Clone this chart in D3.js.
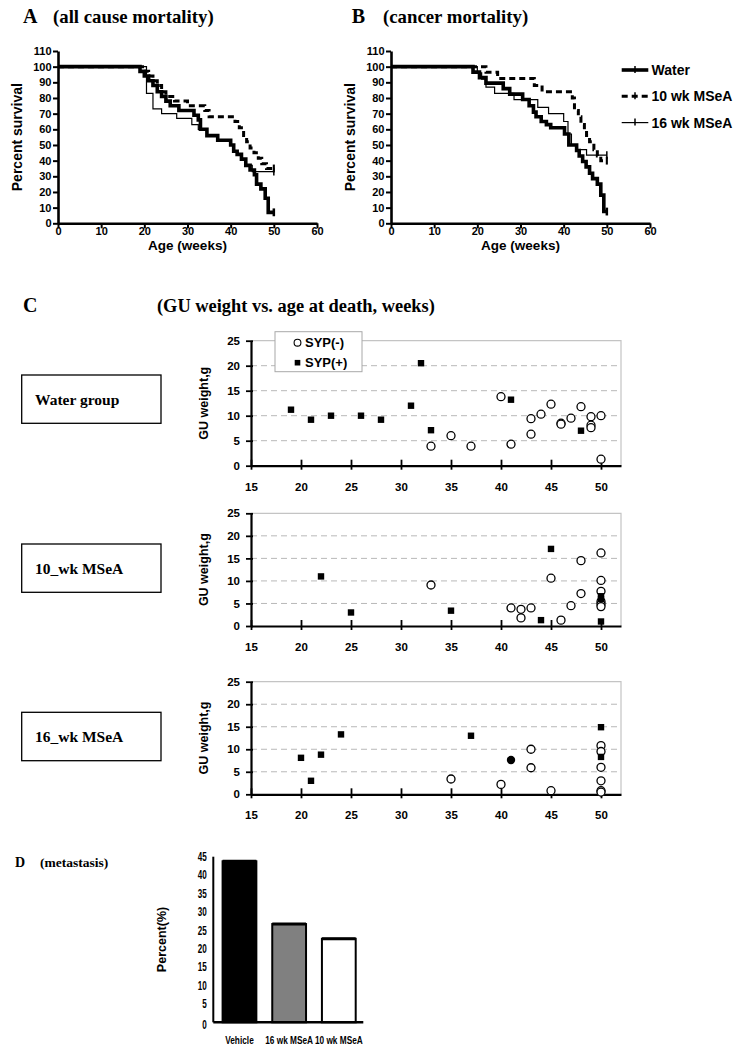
<!DOCTYPE html>
<html><head><meta charset="utf-8">
<script src="https://cdn.jsdelivr.net/npm/d3@7"></script>
<style>
body{margin:0;background:#fff}
svg text{font-family:"Liberation Sans",Arial,sans-serif;font-weight:bold;fill:#000}
svg text.serif{font-family:"Liberation Serif","Times New Roman",serif}
</style></head><body>
<svg id="fig" width="744" height="1050"></svg>
<script>
// ---------------- DATA ----------------
const studyEnd = 50;
const survTicksX = [0,10,20,30,40,50,60];
const survTicksY = [0,10,20,30,40,50,60,70,80,90,100,110];
// Panel A (all cause mortality): [week, percent survival] step points
const survA_water = [[0,100],[19,97],[20,94],[21,91],[22,88],[23,84],[24,81],[25,78],[26,75],[28,72],[31.5,69],[32.5,66],[33,60],[34.5,56],[37,53],[40,50],[40.7,46],[41.5,44],[42.5,41],[43.5,37],[44.5,34],[45.5,31],[46,25],[47,22],[48,16],[48.7,7]];
const survA_10wk  = [[0,100],[20,97],[21,94],[22,91],[23,88],[24,84],[25,81],[27,78],[30,75],[34,72],[35,68],[41,65],[42,61],[43,56],[43.7,52],[44.5,48],[45.4,45],[46.4,41.5],[47.2,38],[48.3,35]];
const survA_16wk  = [[0,100],[20.5,83],[22,73],[24,70],[27.5,67],[31,63],[32.5,60],[34.5,56],[37,53],[40,50],[40.7,46],[41.5,44],[42.5,41],[43.5,37],[45,33]];
// Panel B (cancer mortality)
const survB_water = [[0,100],[19,96.5],[20.5,93],[22,89.5],[26,86],[27.5,82.5],[30.5,79],[32,75],[33,71],[33.6,68],[34.8,65],[36,63],[37,61],[40.2,57],[41.2,50],[43,46.5],[43.6,43],[44.4,39.5],[45.2,36],[46,32],[46.7,28.5],[47.8,25],[48.6,18],[49.3,7.5]];
const survB_10wk  = [[0,100],[22,96.5],[24.7,92.5],[33.2,88],[35,84],[42,80],[42.5,72],[43.4,68],[44,63],[44.8,59],[45.3,56],[46,52],[47,47],[47.8,43],[48.6,40]];
const survB_16wk  = [[0,100],[20,96],[21,92],[22,87],[24,83],[28.5,79],[34,74],[36.5,70],[40,65],[41,57],[41.8,50],[43,47],[45.3,43.5]];
const survSeries = ["Water","10 wk MSeA","16 wk MSeA"];

// Panel C: [age at death (weeks), GU weight (g)]
const gTicksX = [15,20,25,30,35,40,45,50];
const gTicksY = [0,5,10,15,20,25];
const groupNames = ["Water group","10_wk MSeA","16_wk MSeA"];
const water_neg = [[33,3.9],[35,6],[37,3.9],[40,13.8],[41,4.3],[43,9.4],[43,6.3],[44,10.3],[45,12.3],[46,8.5],[46,8.3],[47,9.5],[48,11.8],[49,9.8],[49,8.1],[49,7.6],[50,10],[50,1.3]];
const water_pos = [[19,11.2],[21,9.2],[23,10],[26,10],[28,9.2],[31,12],[32,20.5],[33,7.1],[41,13.2],[48,7]];
const wk10_neg = [[33,9.1],[41,4],[42,3.7],[42,1.8],[43,4],[45,10.6],[46,1.3],[47,4.5],[48,14.5],[48,7.2],[50,16.2],[50,10.1],[50,7.7],[50,5.4],[50,4.8],[50,4.3]];
const wk10_pos = [[22,11],[25,3],[35,3.4],[44,1.3],[45,17.1],[50,6.6],[50,6.0],[50,1]];
const wk16_neg = [[35,3.4],[40,2.2],[43,10],[43,5.9],[45,0.8],[50,10.8],[50,9.5],[50,6],[50,3],[50,0.8],[50,0.5]];
const wk16_pos = [[20,8.1],[21,3],[22,8.8],[24,13.3],[37,13],[50,14.9],[50,8.3]];
const wk16_dot = [[41,7.6]];

// Panel D: metastasis
const metCats = ["Vehicle","16 wk MSeA","10 wk MSeA"];
const metVals = [43.75, 26.7, 22.7];
const metTicks = [0,5,10,15,20,25,30,35,40,45];

// ---------------- DRAW ----------------
const svg = d3.select("#fig");

function txt(g, x, y, s, size, cls, anchor){
  return g.append("text").attr("x",x).attr("y",y).text(s)
    .attr("font-size",size).attr("class",cls||null).attr("text-anchor",anchor||"start");
}

// ---- Survival panels ----
const survStyle = {
  "Water":{w:3.6,dash:null},
  "10 wk MSeA":{w:3,dash:"6,4"},
  "16 wk MSeA":{w:1.2,dash:null}
};
function survivalPanel(x0, series){
  const g = svg.append("g");
  const x = d3.scaleLinear([0,60],[x0, x0+259]);
  const y = d3.scaleLinear([0,110],[223.3, 51]);
  const ax = g.append("g").attr("transform","translate(0,223.3)")
    .call(d3.axisBottom(x).tickValues(survTicksX).tickSize(5).tickSizeOuter(0).tickPadding(-1.5));
  const ay = g.append("g").attr("transform",`translate(${x0},0)`)
    .call(d3.axisLeft(y).tickValues(survTicksY).tickSize(5).tickSizeOuter(0).tickPadding(1.5));
  [ax,ay].forEach(a=>{
    a.select(".domain").attr("stroke-width",2.6);
    a.selectAll(".tick line").attr("stroke-width",2);
    a.selectAll(".tick text").attr("font-size",11).attr("font-family",null);
  });
  const line = d3.line().x(d=>x(d[0])).y(d=>y(d[1])).curve(d3.curveStepAfter);
  // draw thin first, then dashed, then thick
  const order = [2,1,0];
  order.forEach(i=>{
    const name = survSeries[i];
    const st = survStyle[name];
    const pts = series[i].concat([[studyEnd, series[i][series[i].length-1][1]]]);
    g.append("path").attr("d",line(pts)).attr("fill","none").attr("stroke","#000")
      .attr("stroke-width",st.w).attr("stroke-dasharray",st.dash);
    const last = pts[pts.length-1][1];
    g.append("line").attr("x1",x(studyEnd)).attr("x2",x(studyEnd))
      .attr("y1",y(last-2.5)).attr("y2",y(last+2.5)).attr("stroke","#000")
      .attr("stroke-width",Math.max(1.5,st.w*0.7));
  });
  txt(g, x(30), 250, "Age (weeks)", 13.5, null, "middle");
  g.append("text").attr("transform",`translate(${x0-36},${y(55)}) rotate(-90)`)
    .attr("text-anchor","middle").attr("font-size",14).text("Percent survival");
  return g;
}
survivalPanel(58, [survA_water, survA_10wk, survA_16wk]);
survivalPanel(391, [survB_water, survB_10wk, survB_16wk]);

txt(svg, 23, 23.3, "A", 20, "serif");
txt(svg, 53, 23.3, "(all cause mortality)", 18.8, "serif");
txt(svg, 351.7, 23.3, "B", 20, "serif");
txt(svg, 383, 23.3, "(cancer mortality)", 18.8, "serif");

// legend for survival
survSeries.forEach((name,i)=>{
  const st = survStyle[name];
  const ly = 70 + i*26.3;
  svg.append("line").attr("x1",621.7).attr("x2",648.3).attr("y1",ly).attr("y2",ly)
    .attr("stroke","#000").attr("stroke-width",st.w).attr("stroke-dasharray",st.dash);
  svg.append("line").attr("x1",635).attr("x2",635).attr("y1",ly-4).attr("y2",ly+3)
    .attr("stroke","#000").attr("stroke-width",1.5);
  txt(svg, 651.5, ly+5, name, 14);
});

// ---- Panel C ----
txt(svg, 23, 312, "C", 20, "serif");
txt(svg, 157, 312, "(GU weight vs. age at death, weeks)", 18.4, "serif");

const scatterPanels = [
  {name:groupNames[0], y0:465.7, y1:340.7, neg:water_neg, pos:water_pos, dot:[], box:[375,423.3], legend:true},
  {name:groupNames[1], y0:626,   y1:513.3, neg:wk10_neg,  pos:wk10_pos,  dot:[], box:[544,592.3]},
  {name:groupNames[2], y0:794.3, y1:681.7, neg:wk16_neg,  pos:wk16_pos,  dot:wk16_dot, box:[712.3,760.7]}
];
const gx = d3.scaleLinear([15,52],[251,621]);
scatterPanels.forEach(p=>{
  const g = svg.append("g");
  const y = d3.scaleLinear([0,25],[p.y0,p.y1]);
  // border top/right
  g.append("path").attr("d",`M${gx(15)},${y(25)}H${gx(52)}V${y(0)}`)
    .attr("fill","none").attr("stroke","#c4c4c4").attr("stroke-width",1.2);
  // grid
  g.selectAll(".grid").data(gTicksY.filter(v=>v>0&&v<25)).join("line")
    .attr("x1",gx(15)).attr("x2",gx(52)).attr("y1",d=>y(d)).attr("y2",d=>y(d))
    .attr("stroke","#b8b8b8").attr("stroke-width",1).attr("stroke-dasharray","6,4");
  // axes
  const ax = g.append("g").attr("transform",`translate(0,${p.y0})`)
    .call(d3.axisBottom(gx).tickValues(gTicksX).tickSize(0).tickPadding(17));
  ax.select(".domain").attr("stroke-width",2.2);
  ax.selectAll(".tick text").attr("font-size",11.5).attr("font-family",null);
  ax.selectAll(".tick").append("line").attr("y1",-6).attr("y2",4).attr("stroke","#000").attr("stroke-width",1.8);
  const ay = g.append("g").attr("transform",`translate(${gx(15)},0)`)
    .call(d3.axisLeft(y).tickValues(gTicksY).tickSize(0).tickPadding(11));
  ay.select(".domain").attr("stroke-width",2.2);
  ay.selectAll(".tick text").attr("font-size",11.5).attr("font-family",null);
  ay.selectAll(".tick").append("line").attr("x1",-5).attr("x2",2).attr("stroke","#000").attr("stroke-width",1.8);
  g.append("text").attr("transform",`translate(${208},${y(12.5)}) rotate(-90)`)
    .attr("text-anchor","middle").attr("font-size",12.5).text("GU weight,g");
  // points
  g.selectAll(".neg").data(p.neg).join("circle")
    .attr("cx",d=>gx(d[0])).attr("cy",d=>y(d[1])).attr("r",4)
    .attr("fill","#fff").attr("stroke","#000").attr("stroke-width",1.3);
  g.selectAll(".dot").data(p.dot).join("circle")
    .attr("cx",d=>gx(d[0])).attr("cy",d=>y(d[1])).attr("r",4.2).attr("fill","#000");
  g.selectAll(".pos").data(p.pos).join("rect")
    .attr("x",d=>gx(d[0])-3.2).attr("y",d=>y(d[1])-3.2).attr("width",6.4).attr("height",6.4).attr("fill","#000");
  // group box
  svg.append("rect").attr("x",21.7).attr("y",p.box[0]).attr("width",139.3).attr("height",p.box[1]-p.box[0])
    .attr("fill","#fff").attr("stroke","#000").attr("stroke-width",1.3);
  txt(svg, 35, (p.box[0]+p.box[1])/2+5.5, p.name, 15.5, "serif");
  if(p.legend){
    g.append("rect").attr("x",275).attr("y",331.7).attr("width",87).attr("height",40)
      .attr("fill","#fff").attr("stroke","#a8a8a8").attr("stroke-width",1);
    g.append("circle").attr("cx",297.5).attr("cy",342.7).attr("r",3.4)
      .attr("fill","#fff").attr("stroke","#000").attr("stroke-width",1.1);
    g.append("rect").attr("x",294.7).attr("y",359.9).attr("width",5.6).attr("height",5.6).attr("fill","#000");
    txt(g, 305, 347.3, "SYP(-)", 13);
    txt(g, 305, 367.3, "SYP(+)", 13);
  }
});

// ---- Panel D ----
txt(svg, 15, 866.7, "D", 14, "serif");
txt(svg, 40, 866.7, "(metastasis)", 13.5, "serif");
const dy = d3.scaleLinear([0,45],[1022.3,856.7]);
const dx = d3.scaleBand().domain(metCats).range([213.3,363.3]).paddingInner(0.32).paddingOuter(0.17).align(0.55);
const fillScale = d3.scaleOrdinal().domain(metCats).range(["#000","#808080","#fff"]);
const gd = svg.append("g");
gd.selectAll(".bar").data(metCats).join("rect")
  .attr("x",d=>dx(d)).attr("y",(d,i)=>dy(metVals[i])).attr("width",dx.bandwidth())
  .attr("height",(d,i)=>dy(0)-dy(metVals[i])).attr("fill",d=>fillScale(d))
  .attr("stroke","#000").attr("stroke-width",2);
gd.selectAll(".bartop").data(metCats).join("line")
  .attr("x1",d=>dx(d)).attr("x2",d=>dx(d)+dx.bandwidth())
  .attr("y1",(d,i)=>dy(metVals[i])).attr("y2",(d,i)=>dy(metVals[i]))
  .attr("stroke","#000").attr("stroke-width",3);
gd.append("line").attr("x1",213.3).attr("x2",213.3).attr("y1",dy(0)).attr("y2",dy(45))
  .attr("stroke","#000").attr("stroke-width",2);
gd.append("line").attr("x1",213.3).attr("x2",363.3).attr("y1",dy(0)).attr("y2",dy(0))
  .attr("stroke","#000").attr("stroke-width",2.4);
metTicks.forEach(v=>{
  gd.append("text").attr("transform",`translate(206.7,${dy(v)+4.3+(v===0?2.5:0)}) scale(0.65,1)`)
    .attr("text-anchor","end").attr("font-size",12.5).text(v);
});
metCats.forEach(c=>{
  gd.append("text").attr("transform",`translate(${dx(c)+dx.bandwidth()/2},${1044}) scale(0.72,1)`)
    .attr("text-anchor","middle").attr("font-size",11.5).text(c);
});
gd.append("text").attr("transform",`translate(166,${dy(22.5)}) rotate(-90)`)
  .attr("text-anchor","middle").attr("font-size",12.5).text("Percent(%)");
</script>
</body></html>
